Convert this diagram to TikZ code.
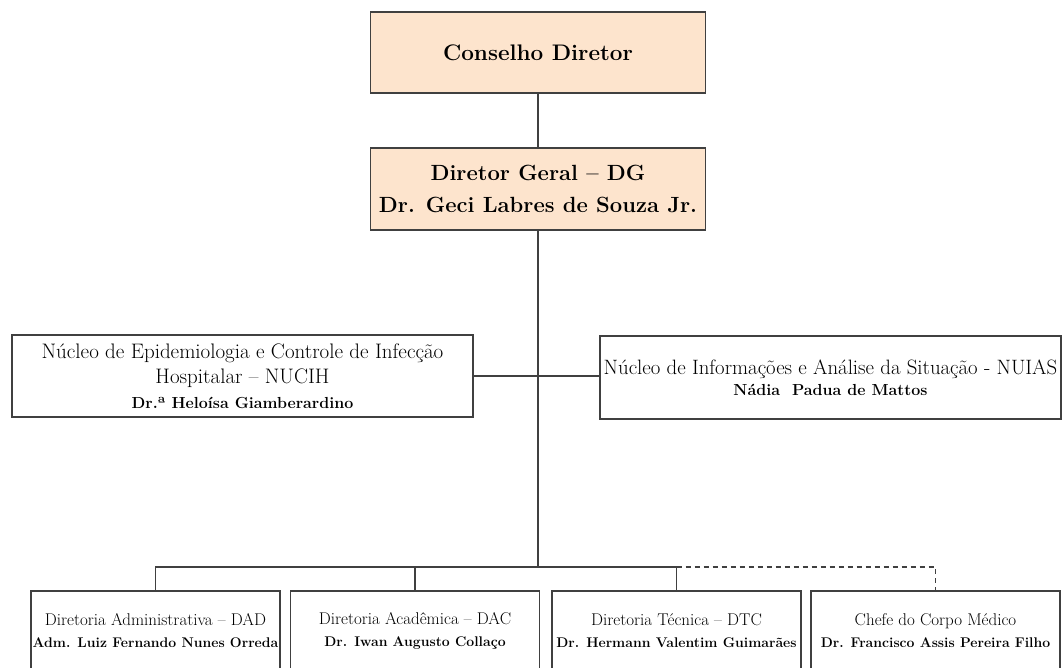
\documentclass[tikz,border=0pt]{standalone}
\usepackage{fontspec}
\definecolor{peach}{RGB}{253,228,205}
\definecolor{edge}{RGB}{64,64,64}
\newcommand{\midbf}{\fontsize{16}{24}\selectfont\bfseries}
\newcommand{\botbf}{\fontsize{14}{22}\selectfont\bfseries}
\begin{document}
\begin{tikzpicture}[x=1pt,y=-1pt,
  box/.style={draw=edge,line width=1.3pt,align=center,inner sep=0pt},
  topbox/.style={box,fill=peach,minimum width=335pt,font=\fontsize{22.5}{32}\selectfont\bfseries},
  midbox/.style={box,minimum width=461pt,minimum height=82pt,font=\fontsize{21}{25}\selectfont},
  botbox/.style={box,minimum width=249pt,minimum height=80pt,font=\fontsize{17}{22}\selectfont},
  link/.style={draw=edge,line width=1.2pt}]
\useasboundingbox (0,0) rectangle (1062,667);
\begin{scope}
\clip (0,0) rectangle (1062,667);
\node[topbox,minimum height=81pt] (cd) at (538,52.5) {Conselho Diretor};
\node[topbox,minimum height=82pt,font=\fontsize{22}{32}\selectfont\bfseries] (dg) at (538,189) {Diretor Geral -- DG\\Dr. Geci Labres de Souza Jr.};
\node[midbox] (nucih) at (242.5,376) {Núcleo de Epidemiologia e Controle de Infecção\\Hospitalar -- NUCIH\\{\midbf Dr.ª Heloísa Giamberardino}};
\node[midbox,minimum height=83pt,font=\fontsize{20.8}{25}\selectfont] (nuias) at (830.5,377.5) {Núcleo de Informações e Análise da Situação - NUIAS\\[-4pt]{\midbf Nádia~ Padua de Mattos}};
\node[botbox] (b1) at (155.5,631) {Diretoria Administrativa -- DAD\\{\botbf Adm. Luiz Fernando Nunes Orreda}};
\node[botbox] (b2) at (415,631) {Diretoria Acadêmica -- DAC\\{\botbf Dr. Iwan Augusto Collaço}};
\node[botbox] (b3) at (676.5,631) {Diretoria Técnica -- DTC\\{\botbf Dr. Hermann Valentim Guimarães}};
\node[botbox] (b4) at (935.5,631) {Chefe do Corpo Médico\\{\botbf Dr. Francisco Assis Pereira Filho}};
\coordinate (bus) at (538,567);
\draw[link] (cd.south) -- (dg.north);
\draw[link] (dg.south) -- (bus);
\draw[link] (nucih.east) -- (nucih.east -| nuias.west);
\draw[link] (b1.north) -- (b1.north |- bus) -- (b3.north |- bus);
\draw[link] (b2.north) -- (b2.north |- bus);
\draw[link] (b3.north) -- (b3.north |- bus);
\draw[link,dashed,dash pattern=on 5pt off 4pt] (b3.north |- bus) -- (b4.north |- bus) -- (b4.north);
\end{scope}
\end{tikzpicture}
\end{document}
